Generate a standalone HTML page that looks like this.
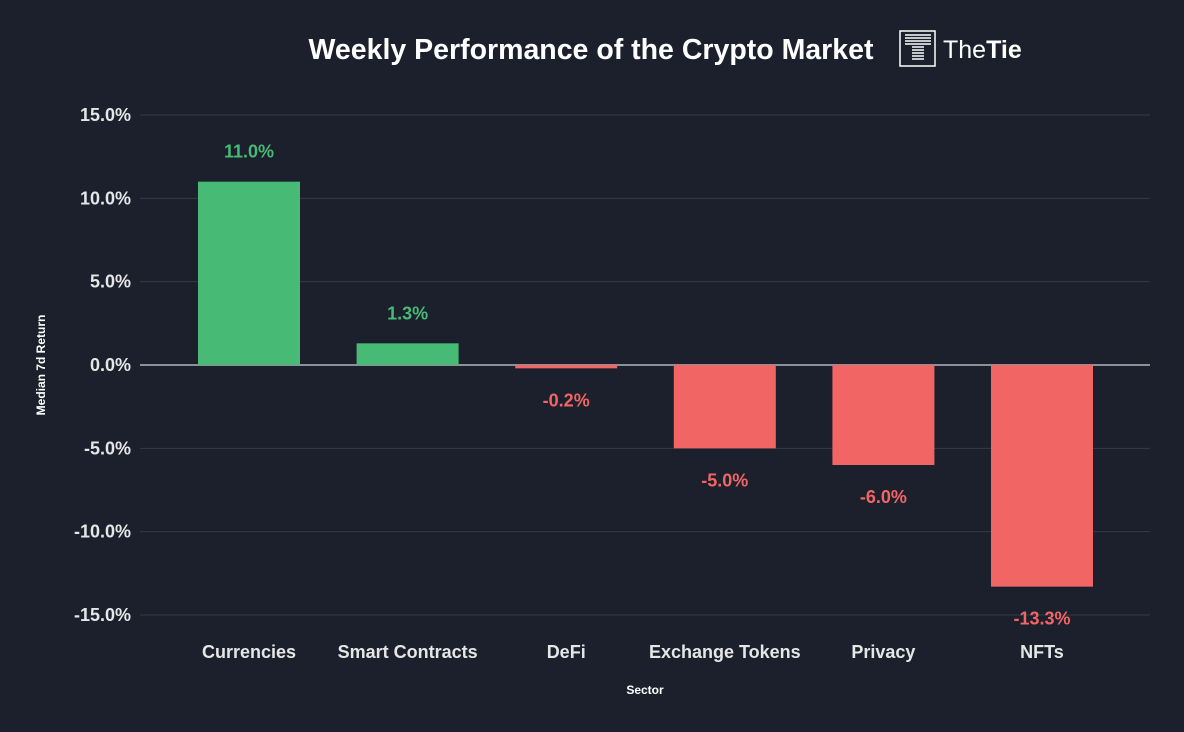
<!DOCTYPE html>
<html><head><meta charset="utf-8"><style>
body{margin:0;background:#1b202c;font-family:"Liberation Sans",sans-serif;}
svg{display:block}
</style></head><body>
<svg id="c" width="1184" height="732">
<rect width="1184" height="732" fill="#1b202c"/>
<text x="591" y="59" text-anchor="middle" fill="#fff" font-size="28.5" font-weight="bold">Weekly Performance of the Crypto Market</text>
<g>
<rect x="900" y="31" width="35" height="35" fill="none" stroke="#fff" stroke-width="1.5"/>
<line x1="905" y1="35" x2="931" y2="35" stroke="#fff" stroke-width="1.5"/>
<line x1="905" y1="38" x2="931" y2="38" stroke="#fff" stroke-width="1.5"/>
<line x1="905" y1="41" x2="931" y2="41" stroke="#fff" stroke-width="1.5"/>
<line x1="905" y1="44" x2="931" y2="44" stroke="#fff" stroke-width="1.5"/>
<line x1="912" y1="47" x2="924" y2="47" stroke="#fff" stroke-width="1.5"/>
<line x1="912" y1="50" x2="924" y2="50" stroke="#fff" stroke-width="1.5"/>
<line x1="912" y1="53" x2="924" y2="53" stroke="#fff" stroke-width="1.5"/>
<line x1="912" y1="56" x2="924" y2="56" stroke="#fff" stroke-width="1.5"/>
<line x1="912" y1="59" x2="924" y2="59" stroke="#fff" stroke-width="1.5"/>
<text x="943" y="58" fill="#fff" font-size="25"><tspan font-weight="normal">The</tspan><tspan font-weight="bold">Tie</tspan></text>
</g>
<text transform="translate(45,365) rotate(-90)" text-anchor="middle" fill="#fff" font-size="12" font-weight="bold">Median 7d Return</text>
<text x="645" y="694" text-anchor="middle" fill="#fff" font-size="12" font-weight="bold">Sector</text>
<g id="grid"></g><g id="bars"></g>
</svg>
<script>
const categories=["Currencies","Smart Contracts","DeFi","Exchange Tokens","Privacy","NFTs"];
const values=[11.0,1.3,-0.2,-5.0,-6.0,-13.3];
const ticks=[15,10,5,0,-5,-10,-15];
const NS="http://www.w3.org/2000/svg";
const x0=140,x1=1150,y0=365,pxPer=250/15;
const y=v=>y0-v*pxPer;
function mk(t,a,p){const e=document.createElementNS(NS,t);for(const k in a)e.setAttribute(k,a[k]);p.appendChild(e);return e;}
const g=document.getElementById('grid'),b=document.getElementById('bars');
ticks.forEach(t=>{
 const l=mk('line',{x1:x0,x2:x1,y1:y(t),y2:y(t),stroke:t===0?'#ffffff':'#343a48','stroke-width':1},g);
 
 
 const tx=mk('text',{x:131,y:y(t)+6,'text-anchor':'end',fill:'#e6e6e6','font-size':18,'font-weight':'bold'},g);
 tx.textContent=t.toFixed(1)+'%';
 
 
});
categories.forEach((c,i)=>{
 const v=values[i],col=v>=0?'#47bb76':'#f26565',xc=249+i*158.6;
 const top=Math.min(y(v),y0),h=Math.max(Math.abs(y(v)-y0),1);
 const r=mk('rect',{x:xc-51,y:top,width:102,height:h,fill:col},b);
 
 
 const lb=mk('text',{x:xc,y:v>=0?y(v)-24:y(v)+38,'text-anchor':'middle',fill:col,'font-size':18,'font-weight':'bold'},b);
 lb.textContent=v.toFixed(1)+'%';
 
 
 const xl=mk('text',{x:xc,y:658,'text-anchor':'middle',fill:'#e6e6e6','font-size':18,'font-weight':'bold'},b);
 xl.textContent=c;
 
 
});
</script>
</body></html>
